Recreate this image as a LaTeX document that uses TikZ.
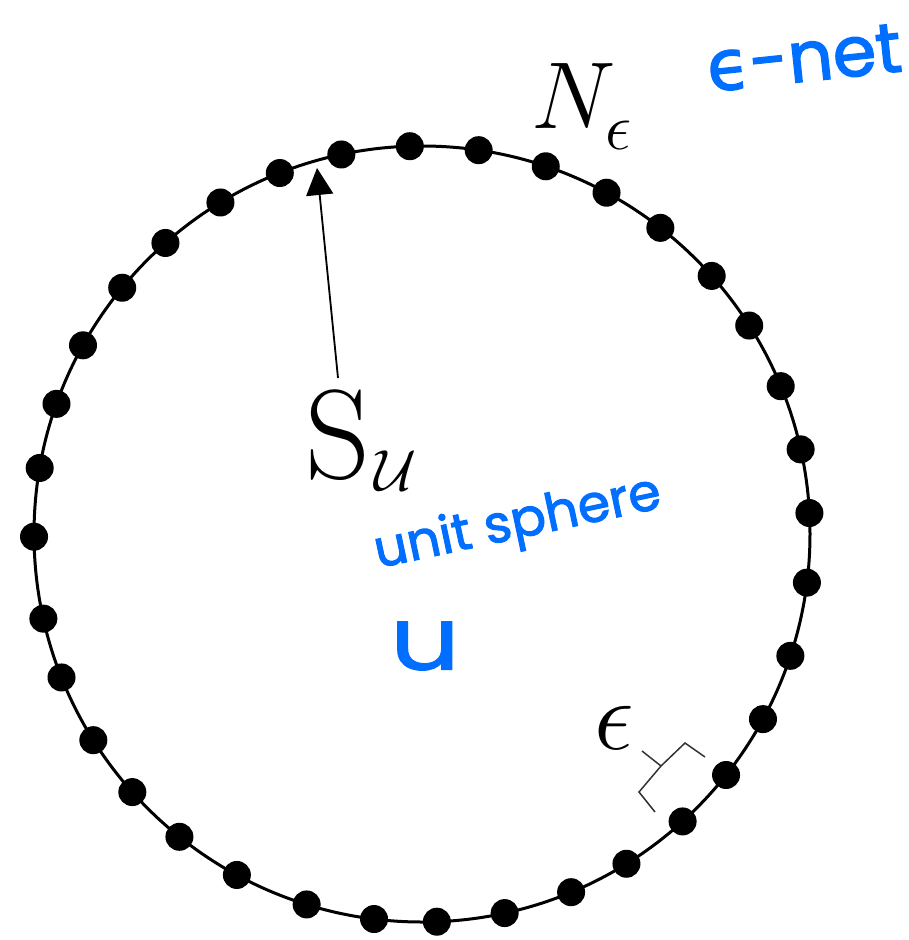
\RequirePackage{fix-cm}
\documentclass[tikz,border=0pt]{standalone}
\usepackage{fontspec}
\newfontfamily\hand[FakeBold=2]{Poppins}
\newfontfamily\handthin[FakeBold=1]{Poppins}
\newfontfamily\handgreek[FakeBold=2]{DejaVu Sans}
\usetikzlibrary{arrows.meta}
\definecolor{ink}{RGB}{0,110,255}
\begin{document}
\begin{tikzpicture}[x=1pt,y=-1pt,
  dot/.style={circle,fill=black,inner sep=0pt,minimum size=28pt},
  hw/.style={text=ink,inner sep=0pt},
  lbl/.style={anchor=base west,inner sep=0pt},
  ring/.style={line width=3pt},
  pointer/.style={line width=1.8pt,-{Triangle[length=27pt,width=27pt]}},
  brace/.style={line width=1.5pt,black!80,line join=miter}]
\useasboundingbox (0,0) rectangle (908,940);
\coordinate (c) at (422,534);
\draw[ring] (c) circle[radius=388pt];
\foreach \a [count=\i] in {91.8,81.6,71.4,61.6,52.1,41.7,32.5,22.4,12.6,3.1,
  -7.2,-18.3,-28.5,-38.4,-47.8,-58.2,-67.4,-77.7,-87.8,-97.1,-107.3,-118.5,
  -128.7,-138.3,-147.9,-158.3,-167.4,180.4,170.2,160.4,150.9,140.6,131.4,
  121.3,111.5,102.0}
  \node[dot] (d\i) at ([shift={(\a:388pt)}]c) {};
% labels
\node[lbl] (N) at (531,128) {\fontsize{95}{95}\selectfont$N$\kern-10pt\raisebox{-21pt}{\fontsize{66}{66}\selectfont$\epsilon$}};
\node[lbl] (su) at (305,478) {\fontsize{127}{127}\selectfont S\kern4pt\raisebox{-12pt}{\fontsize{58}{58}\selectfont$\mathcal{U}$}};
\coordinate (astart) at (338,378);
\coordinate (atip) at (317,168);
\draw[pointer] (astart) -- (atip);
\node[lbl] (eps) at (594,749) {\fontsize{100}{100}\selectfont$\epsilon$};
\coordinate (b1) at (705,757);
\coordinate (b2) at (685,743);
\coordinate (bm) at (661,766);
\coordinate (b3) at (639,792);
\coordinate (b4) at (655,812);
\coordinate (bn) at (642,751);
\draw[brace] (b1) -- (b2) -- (bm) -- (b3) -- (b4);
\draw[brace] (bm) -- (bn);
% handwritten notes
\node[hw,rotate=12,font=\hand\fontsize{52}{52}\selectfont] (us) at (518,525) {unit sphere};
\node[hw,xscale=1.25,font=\handthin\fontsize{88}{88}\selectfont] (u) at (425,646) {u};
\node[hw,rotate=6,font=\hand\fontsize{70}{70}\selectfont] (enet) at (804,58) {{\handgreek ϵ}-net};
\end{tikzpicture}
\end{document}
